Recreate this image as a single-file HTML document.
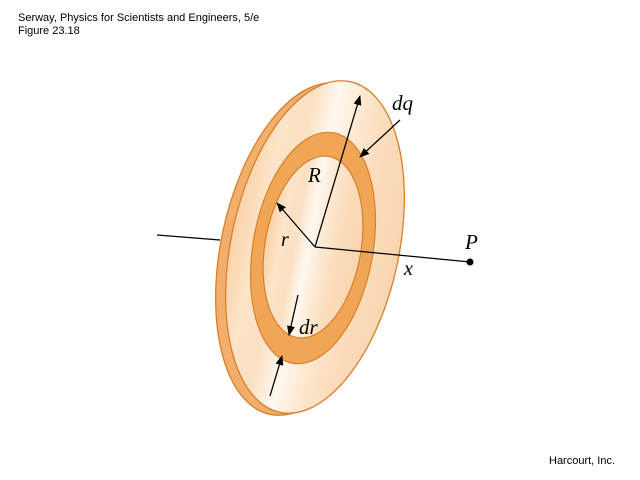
<!DOCTYPE html>
<html><head><style>body{margin:0;background:#fff}svg{display:block}</style></head><body>
<svg width="640" height="480" viewBox="0 0 640 480" xmlns="http://www.w3.org/2000/svg">
<defs>
<linearGradient id="g" x1="0" y1="0" x2="1" y2="0">
<stop offset="0" stop-color="#f8d2a8"/><stop offset="0.15" stop-color="#fde4c8"/><stop offset="0.3" stop-color="#fbe0c2"/><stop offset="0.45" stop-color="#fff8f0"/><stop offset="0.6" stop-color="#fde8d0"/><stop offset="0.75" stop-color="#fbdcbc"/><stop offset="1" stop-color="#f9d6b0"/>
</linearGradient>
<marker id="a" markerWidth="10" markerHeight="8" refX="9" refY="4" orient="auto" markerUnits="userSpaceOnUse"><path d="M0,0 L10,4 L0,8 z" fill="#000"/></marker>
</defs>
<text x="18" y="21" font-family="Liberation Sans, sans-serif" font-size="11">Serway, Physics for Scientists and Engineers, 5/e</text>
<text x="18" y="34" font-family="Liberation Sans, sans-serif" font-size="11">Figure 23.18</text>
<text x="549" y="464" font-family="Liberation Sans, sans-serif" font-size="11">Harcourt, Inc.</text>
<line x1="157" y1="235" x2="220" y2="240" stroke="#000" stroke-width="1.3"/>
<ellipse cx="305" cy="249" rx="84" ry="169" transform="rotate(12 305 249)" fill="#f2ae6c" stroke="#d9802a" stroke-width="1.3"/>
<ellipse cx="315" cy="247" rx="84" ry="169" transform="rotate(12 315 247)" fill="url(#g)" stroke="#d9802a" stroke-width="1.3"/>
<ellipse cx="313" cy="248" rx="60" ry="117" transform="rotate(10 313 248)" fill="#f0a656" stroke="#d9802a" stroke-width="1.2"/>
<ellipse cx="313" cy="247" rx="48" ry="92" transform="rotate(10 313 247)" fill="url(#g)" stroke="#d9802a" stroke-width="1.2"/>
<line x1="315" y1="247" x2="470" y2="262" stroke="#000" stroke-width="1.3"/>
<circle cx="470" cy="262" r="3.5" fill="#000"/>
<line x1="315" y1="247" x2="360" y2="96" stroke="#000" stroke-width="1.3" marker-end="url(#a)"/>
<line x1="315" y1="247" x2="277" y2="203" stroke="#000" stroke-width="1.3" marker-end="url(#a)"/>
<line x1="400" y1="120" x2="360" y2="157" stroke="#000" stroke-width="1.3" marker-end="url(#a)"/>
<line x1="298" y1="295" x2="289" y2="335" stroke="#000" stroke-width="1.3" marker-end="url(#a)"/>
<line x1="270" y1="396" x2="282" y2="356" stroke="#000" stroke-width="1.3" marker-end="url(#a)"/>
<g font-family="Liberation Serif, serif" font-style="italic" font-size="21">
<text x="392" y="110">dq</text>
<text x="308" y="182">R</text>
<text x="281" y="246" font-size="20">r</text>
<text x="465" y="249">P</text>
<text x="404" y="275" font-size="20">x</text>
<text x="299" y="334">dr</text>
</g>
</svg>
</body></html>
